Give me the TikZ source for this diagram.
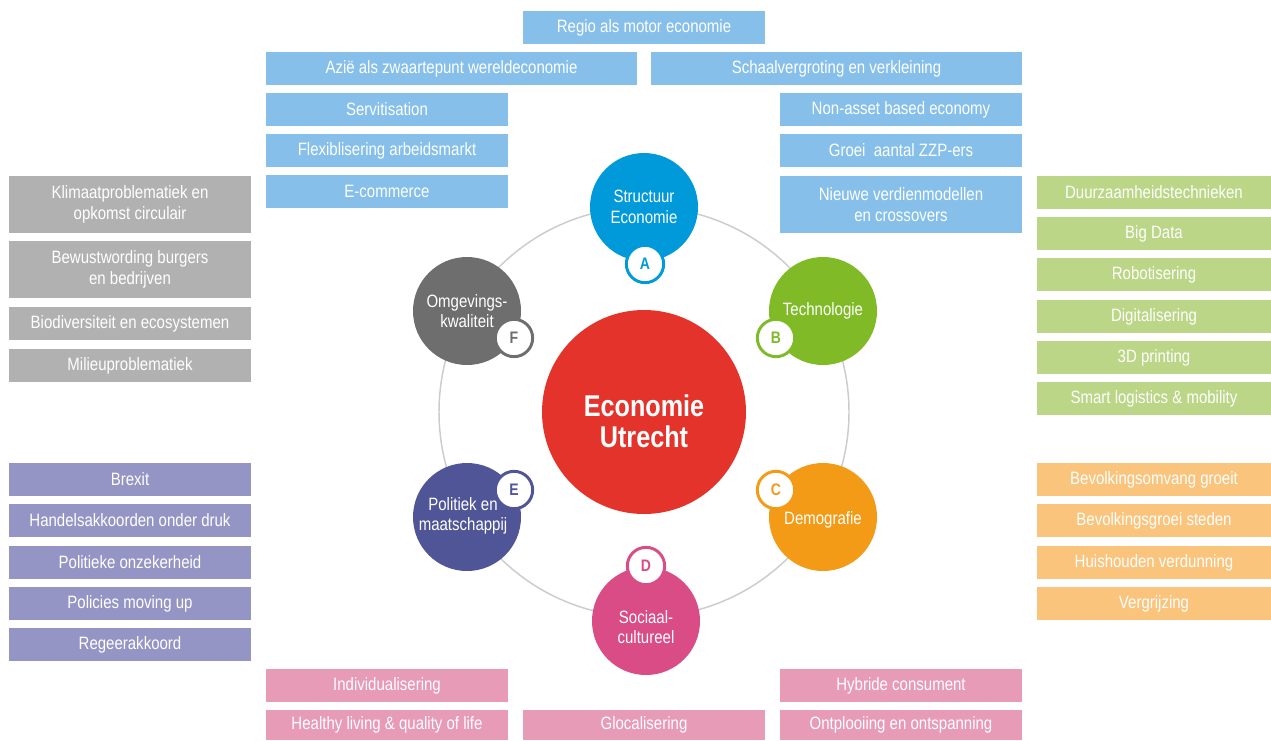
\documentclass[tikz,border=0pt]{standalone}
\usepackage{fontspec}
\setmainfont[FakeStretch=0.84]{Liberation Sans}
\definecolor{cblue}{RGB}{0,154,218}
\definecolor{bblue}{RGB}{133,191,234}
\definecolor{cgreen}{RGB}{128,186,39}
\definecolor{bgreen}{RGB}{187,214,134}
\definecolor{corange}{RGB}{243,154,22}
\definecolor{borange}{RGB}{250,196,125}
\definecolor{cpink}{RGB}{217,76,134}
\definecolor{bpink}{RGB}{231,155,182}
\definecolor{cpurple}{RGB}{79,85,151}
\definecolor{bpurple}{RGB}{149,149,197}
\definecolor{cgray}{RGB}{110,110,110}
\definecolor{bgray}{RGB}{177,177,177}
\definecolor{cred}{RGB}{228,51,43}
\definecolor{ring}{RGB}{204,204,204}
\tikzset{
  box/.style={draw=none, inner sep=0pt, text=white, align=center, font=\fontsize{13.4}{15.5}\selectfont},
  sat/.style={circle, minimum size=81pt, inner sep=0pt, text=white, align=center, font=\fontsize{13.4}{15.5}\selectfont},
  lett/.style={circle, minimum size=28pt, inner sep=0pt, fill=white, line width=2.2pt, font=\bfseries\fontsize{12.5}{14}\selectfont},
}
\newcommand\bx[7]{\node[box, fill=#6, minimum width={(#4-#2)*0.75pt}, minimum height={(#5-#3)*0.75pt}] (#1) at ({(#2+#4)/2},{(#3+#5)/2}) {#7};}
\begin{document}
\begin{tikzpicture}[x=0.75pt,y=-0.75pt]
\useasboundingbox (0,0) rectangle (1271,740);
% ring
\node[circle, minimum size=153pt, inner sep=0pt] (ringc) at (644,412) {};
\draw[ring, line width=1.1pt] (ringc.center) circle (205);
% centre
\node[circle, fill=cred, minimum size=153pt, inner sep=0pt] (main) at (644,412) {};
\node[text=white, align=center, font=\bfseries\fontsize{22.5}{23.5}\selectfont] (mt) at (644,421) {Economie\\Utrecht};
% satellites
\node[sat, fill=cblue] (A) at (644,207) {Structuur\\Economie};
\node[sat, fill=cgreen] (B) at (823,311) {Technologie};
\node[sat, fill=corange] (C) at (823,517) {\\[-2pt]Demografie};
\node[sat, fill=cpink] (D) at (646,621) {};
\node[align=center, text=white, font=\fontsize{13.4}{15.5}\selectfont] (Dt) at (646,627) {Sociaal-\\cultureel};
\node[sat, fill=cpurple] (E) at (467,517) {};
\node[align=center, text=white, font=\fontsize{13.4}{15.5}\selectfont] (Et) at (463,516) {Politiek en\\maatschappij};
\node[sat, fill=cgray] (F) at (467,311) {Omgevings-\\kwaliteit};
% letters
\node[lett, draw=cblue, text=cblue] (la) at (645,264) {A};
\node[lett, draw=cgreen, text=cgreen] (lb) at (776,338) {B};
\node[lett, draw=corange, text=corange] (lc) at (776,490) {C};
\node[lett, draw=cpink, text=cpink] (ld) at (646,566) {D};
\node[lett, draw=cpurple, text=cpurple] (le) at (514,490) {E};
\node[lett, draw=cgray, text=cgray] (lf) at (514,338) {F};
% blue boxes
\bx{a1}{523}{11}{765}{44}{bblue}{Regio als motor economie}
\bx{a2}{266}{52}{637}{85}{bblue}{Azië als zwaartepunt wereldeconomie}
\bx{a3}{651}{52}{1022}{85}{bblue}{Schaalvergroting en verkleining}
\bx{a4}{266}{93}{508}{126}{bblue}{Servitisation}
\bx{a5}{266}{134}{508}{167}{bblue}{Flexiblisering arbeidsmarkt}
\bx{a6}{266}{175}{508}{208}{bblue}{E-commerce}
\bx{a7}{780}{93}{1022}{126}{bblue}{Non-asset based economy}
\bx{a8}{780}{134}{1022}{167}{bblue}{Groei\ \ aantal ZZP-ers}
\bx{a9}{780}{176}{1022}{233}{bblue}{Nieuwe verdienmodellen\\en crossovers}
% gray boxes
\bx{f1}{9}{176}{251}{233}{bgray}{Klimaatproblematiek en\\opkomst circulair}
\bx{f2}{9}{241}{251}{298}{bgray}{Bewustwording burgers\\en bedrijven}
\bx{f3}{9}{307}{251}{340}{bgray}{Biodiversiteit en ecosystemen}
\bx{f4}{9}{349}{251}{382}{bgray}{Milieuproblematiek}
% green boxes
\bx{b1}{1037}{176}{1271}{209}{bgreen}{Duurzaamheidstechnieken}
\bx{b2}{1037}{217}{1271}{250}{bgreen}{Big Data}
\bx{b3}{1037}{258}{1271}{291}{bgreen}{Robotisering}
\bx{b4}{1037}{300}{1271}{333}{bgreen}{Digitalisering}
\bx{b5}{1037}{341}{1271}{374}{bgreen}{3D printing}
\bx{b6}{1037}{382}{1271}{415}{bgreen}{Smart logistics \& mobility}
% purple boxes
\bx{e1}{9}{463}{251}{496}{bpurple}{Brexit}
\bx{e2}{9}{504}{251}{537}{bpurple}{Handelsakkoorden onder druk}
\bx{e3}{9}{546}{251}{579}{bpurple}{Politieke onzekerheid}
\bx{e4}{9}{587}{251}{620}{bpurple}{Policies moving up}
\bx{e5}{9}{628}{251}{661}{bpurple}{Regeerakkoord}
% orange boxes
\bx{c1}{1037}{463}{1271}{496}{borange}{Bevolkingsomvang groeit}
\bx{c2}{1037}{504}{1271}{537}{borange}{Bevolkingsgroei steden}
\bx{c3}{1037}{546}{1271}{579}{borange}{Huishouden verdunning}
\bx{c4}{1037}{587}{1271}{620}{borange}{Vergrijzing}
% pink boxes
\bx{d1}{266}{669}{508}{702}{bpink}{Individualisering}
\bx{d2}{266}{710}{508}{740}{bpink}{Healthy living \& quality of life}
\bx{d3}{523}{710}{765}{740}{bpink}{Glocalisering}
\bx{d4}{780}{669}{1022}{702}{bpink}{Hybride consument}
\bx{d5}{780}{710}{1022}{740}{bpink}{Ontplooiing en ontspanning}
\end{tikzpicture}
\end{document}
